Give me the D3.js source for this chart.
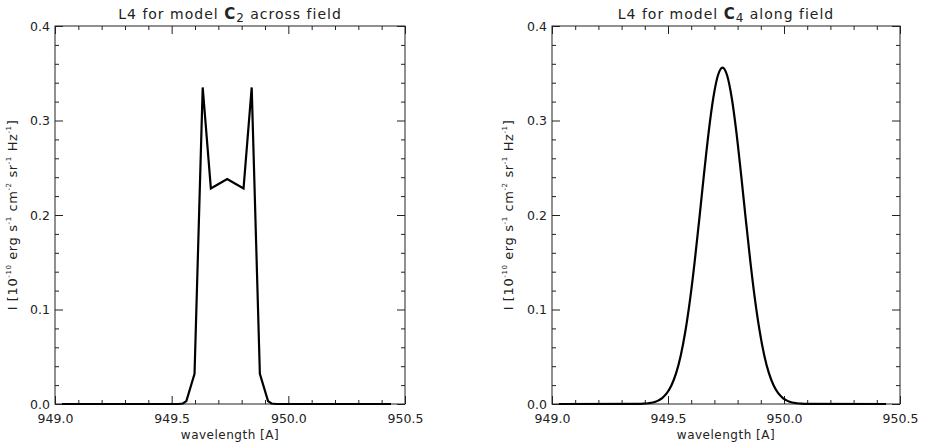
<!DOCTYPE html>
<html>
<head>
  <meta charset="utf-8">
  <title>L4 line profiles</title>
  <script src="https://cdn.jsdelivr.net/npm/d3@7/dist/d3.min.js"></script>
  <style>
    body { margin: 0; background: #fff; }
    svg text { font-family: "DejaVu Sans", sans-serif; fill: #222; }
    .axis path { display: none; }
    .axis line { stroke: #222; stroke-width: 1; }
    .axis text { font-size: 12.5px; }
  </style>
</head>
<body>
<svg id="chart" width="926" height="448"></svg>
<script>
// C2 across field: sampled profile (wavelength in A, intensity)
var wlC2 = [949.03, 949.528, 949.548, 949.563, 949.598, 949.633, 949.668, 949.703, 949.738,
  949.773, 949.808, 949.843, 949.878, 949.913, 949.928, 949.948, 950.44];
var intC2 = [0, 0, 0.0005, 0.003, 0.032, 0.335, 0.228, 0.233, 0.238,
  0.233, 0.228, 0.335, 0.032, 0.003, 0.0005, 0, 0];

// C4 along field: smooth profile
var wlC4 = [949.03, 949.375, 949.395, 949.415, 949.435, 949.455, 949.475, 949.495, 949.515,
  949.535, 949.555, 949.575, 949.595, 949.615, 949.635, 949.655, 949.675, 949.695, 949.715,
  949.735, 949.755, 949.775, 949.795, 949.815, 949.835, 949.855, 949.875, 949.895, 949.915,
  949.935, 949.955, 949.975, 949.995, 950.015, 950.035, 950.055, 950.075, 950.095, 950.44];
var intC4 = [0, 0.0001, 0.0003, 0.0008, 0.0016, 0.0033, 0.0063, 0.0114, 0.0198,
  0.0326, 0.0514, 0.0772, 0.1104, 0.1507, 0.1960, 0.2429, 0.2872, 0.3235, 0.3476,
  0.356, 0.3476, 0.3235, 0.2872, 0.2429, 0.1960, 0.1507, 0.1104, 0.0772, 0.0514,
  0.0326, 0.0198, 0.0114, 0.0063, 0.0033, 0.0016, 0.0008, 0.0003, 0.0001, 0];

var xMajor = [949.0, 949.5, 950.0, 950.5];
var xMinor = [949.1, 949.2, 949.3, 949.4, 949.6, 949.7, 949.8, 949.9, 950.1, 950.2, 950.3, 950.4];
var yMajor = [0.0, 0.1, 0.2, 0.3, 0.4];
var yMinor = [0.02, 0.04, 0.06, 0.08, 0.12, 0.14, 0.16, 0.18, 0.22, 0.24, 0.26, 0.28, 0.32, 0.34, 0.36, 0.38];

var svg = d3.select('#chart');

function panel(opt) {
  var x = d3.scaleLinear().domain([949.0, 950.5]).range([opt.left, opt.right]),
    y = d3.scaleLinear().domain([0, 0.4]).range([opt.bottom, opt.top]),
    g = svg.append('g');

  // frame
  g.append('rect')
    .attr('x', opt.left).attr('y', opt.top)
    .attr('width', opt.right - opt.left).attr('height', opt.bottom - opt.top)
    .attr('fill', 'none').attr('stroke', '#222').attr('stroke-width', 1);

  var fmt = d3.format('.1f');

  // bottom / top ticks
  g.append('g').attr('class', 'axis').attr('transform', 'translate(0,' + opt.bottom + ')')
    .call(d3.axisBottom(x).tickValues(xMajor).tickFormat(fmt).tickSizeInner(-8).tickSizeOuter(0).tickPadding(10));
  g.append('g').attr('class', 'axis').attr('transform', 'translate(0,' + opt.bottom + ')')
    .call(d3.axisBottom(x).tickValues(xMinor).tickFormat('').tickSizeInner(-4).tickSizeOuter(0));
  g.append('g').attr('class', 'axis').attr('transform', 'translate(0,' + opt.top + ')')
    .call(d3.axisTop(x).tickValues(xMajor).tickFormat('').tickSizeInner(-8).tickSizeOuter(0));
  g.append('g').attr('class', 'axis').attr('transform', 'translate(0,' + opt.top + ')')
    .call(d3.axisTop(x).tickValues(xMinor).tickFormat('').tickSizeInner(-4).tickSizeOuter(0));

  // left / right ticks
  g.append('g').attr('class', 'axis').attr('transform', 'translate(' + opt.left + ',0)')
    .call(d3.axisLeft(y).tickValues(yMajor).tickFormat(fmt).tickSizeInner(-8).tickSizeOuter(0).tickPadding(5));
  g.append('g').attr('class', 'axis').attr('transform', 'translate(' + opt.left + ',0)')
    .call(d3.axisLeft(y).tickValues(yMinor).tickFormat('').tickSizeInner(-4).tickSizeOuter(0));
  g.append('g').attr('class', 'axis').attr('transform', 'translate(' + opt.right + ',0)')
    .call(d3.axisRight(y).tickValues(yMajor).tickFormat('').tickSizeInner(-8).tickSizeOuter(0));
  g.append('g').attr('class', 'axis').attr('transform', 'translate(' + opt.right + ',0)')
    .call(d3.axisRight(y).tickValues(yMinor).tickFormat('').tickSizeInner(-4).tickSizeOuter(0));

  // profile
  var pts = opt.wl.map((w, i) => [w, opt.val[i]]);
  var line = d3.line()
    .x(d => x(d[0]))
    .y(d => y(d[1]))
    .curve(opt.curve);
  g.append('path')
    .attr('d', line(pts))
    .attr('fill', 'none')
    .attr('stroke', '#000')
    .attr('stroke-width', 2.2)
    .attr('stroke-linejoin', 'miter');

  // title
  var cx = (opt.left + opt.right) / 2;
  var t = g.append('text')
    .attr('x', cx).attr('y', 19)
    .attr('text-anchor', 'middle')
    .style('font-size', '14px')
    .style('letter-spacing', '1px');
  t.append('tspan').text('L4 for model ');
  t.append('tspan').style('font-weight', 'bold').style('font-size', '15px').text('C');
  t.append('tspan').attr('dy', 3).style('font-size', '12px').text(opt.sub);
  t.append('tspan').attr('dy', -3).text(' ' + opt.tail);

  // x label
  g.append('text')
    .attr('x', cx).attr('y', 439)
    .attr('text-anchor', 'middle')
    .style('font-size', '12px')
    .style('letter-spacing', '0.5px')
    .text('wavelength [A]');

  // y label
  var yl = g.append('text')
    .attr('transform', 'translate(' + opt.ylab + ',' + ((opt.top + opt.bottom) / 2) + ') rotate(-90)')
    .attr('text-anchor', 'middle')
    .style('font-size', '13px')
    .style('letter-spacing', '0.6px');
  var parts = [['I [10', ''], ['-10', 'sup'], [' erg s', ''], ['-1', 'sup'], [' cm', ''], ['-2', 'sup'],
    [' sr', ''], ['-1', 'sup'], [' Hz', ''], ['-1', 'sup'], [']', '']];
  var up = false;
  parts.forEach(p => {
    var s = yl.append('tspan').text(p[0]);
    if (p[1] == 'sup') { s.attr('dy', -6).style('font-size', '7px'); up = true; }
    else if (up) { s.attr('dy', 6); up = false; }
  });
}

panel({ left: 55, right: 405, top: 26, bottom: 404, ylab: 17,
  wl: wlC2, val: intC2, curve: d3.curveLinear, sub: '2', tail: 'across field' });
panel({ left: 552, right: 900, top: 26, bottom: 404, ylab: 513,
  wl: wlC4, val: intC4, curve: d3.curveMonotoneX, sub: '4', tail: 'along field' });
</script>
</body>
</html>
